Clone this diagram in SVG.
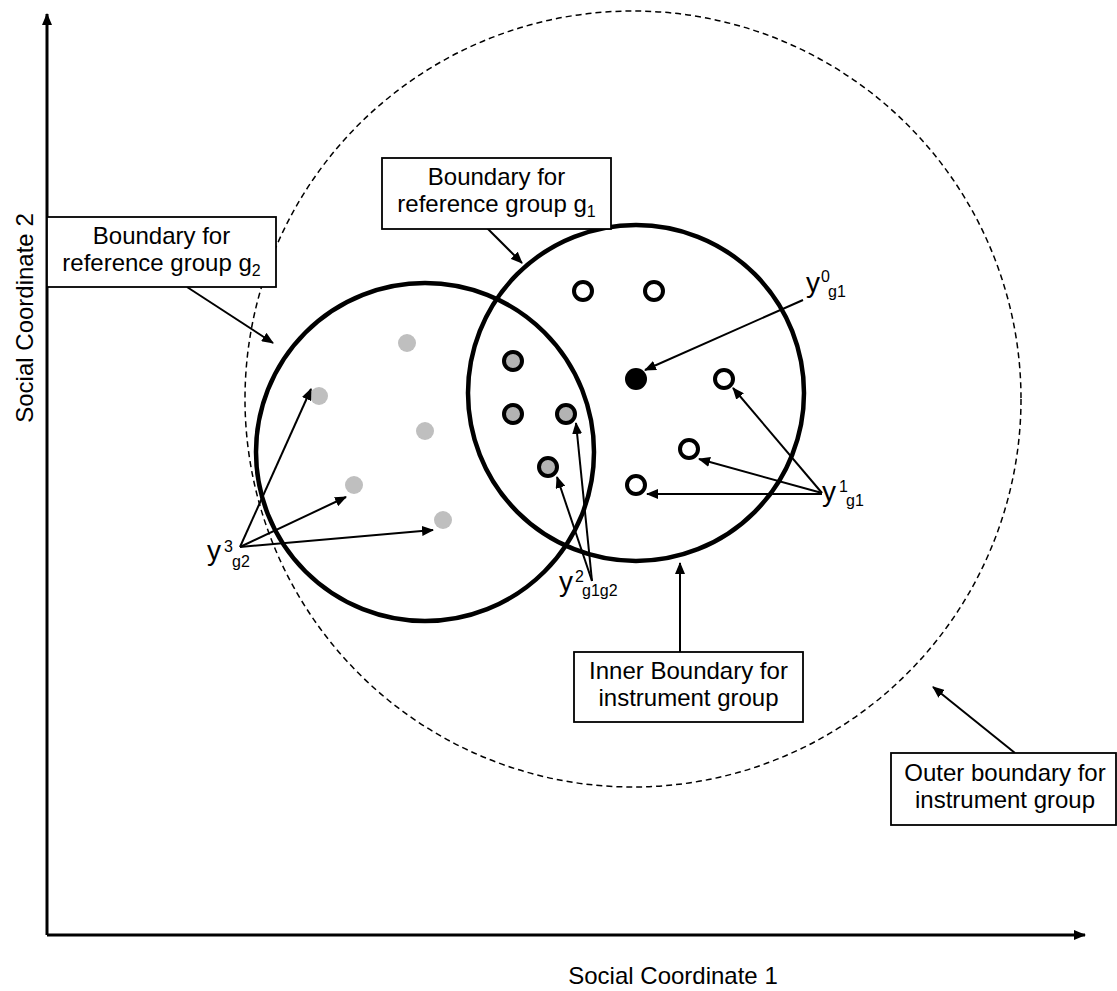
<svg xmlns="http://www.w3.org/2000/svg" width="1117" height="991" viewBox="0 0 1117 991">
<defs>
<style>
text{font-family:"Liberation Sans",Arial,sans-serif;fill:#000}
.t{font-size:24px;text-anchor:middle}
.s{font-size:16px}
.y{font-size:28px}
.box{fill:#fff;stroke:#000;stroke-width:1.8}
.ln{stroke:#000;stroke-width:2;fill:none}
.ax{stroke:#000;stroke-width:3;fill:none}
.big{fill:none;stroke:#000;stroke-width:4.5}
.open{fill:#fff;stroke:#000;stroke-width:4}
.both{fill:#b3b3b3;stroke:#000;stroke-width:4}
.g2p{fill:#bfbfbf}
</style>
<marker id="ah" markerUnits="userSpaceOnUse" markerWidth="12" markerHeight="10" refX="11" refY="5" orient="auto">
<path d="M0,0 L12,5 L0,10 z" fill="#000"/>
</marker>
<marker id="axh" markerUnits="userSpaceOnUse" markerWidth="12" markerHeight="10" refX="11" refY="5" orient="auto">
<path d="M0,0 L12,5 L0,10 z" fill="#000"/>
</marker>
</defs>
<rect width="1117" height="991" fill="#fff"/>

<g id="axes">
<line class="ax" x1="47" y1="935" x2="47" y2="14" marker-end="url(#axh)"/>
<line class="ax" x1="47" y1="935" x2="1085" y2="935" marker-end="url(#axh)"/>
<text class="t" x="673" y="984">Social Coordinate 1</text>
<text class="t" transform="translate(33,318) rotate(-90)">Social Coordinate 2</text>
</g>

<g id="outer-boundary">
<circle cx="633" cy="399" r="388" fill="none" stroke="#000" stroke-width="1.5" stroke-dasharray="6,4"/>
</g>
<g id="boundary-g2">
<circle class="big" cx="425" cy="452" r="169"/>
</g>
<g id="boundary-g1">
<circle class="big" cx="636" cy="393" r="168"/>
</g>

<g id="points-g2">
<circle class="g2p" cx="407" cy="343" r="9"/>
<circle class="g2p" cx="319" cy="396" r="9"/>
<circle class="g2p" cx="425" cy="431" r="9"/>
<circle class="g2p" cx="354" cy="485" r="9"/>
<circle class="g2p" cx="443" cy="520" r="9"/>
</g>
<g id="points-g1g2">
<circle class="both" cx="513" cy="361" r="9"/>
<circle class="both" cx="513" cy="414" r="9"/>
<circle class="both" cx="566" cy="414" r="9"/>
<circle class="both" cx="548" cy="467" r="9"/>
</g>
<g id="points-g1">
<circle class="open" cx="583" cy="291" r="9"/>
<circle class="open" cx="654" cy="291" r="9"/>
<circle class="open" cx="724" cy="379" r="9"/>
<circle class="open" cx="689" cy="449" r="9"/>
<circle class="open" cx="636" cy="485" r="9"/>
</g>
<g id="point-y0">
<circle cx="636" cy="379" r="11" fill="#000"/>
</g>

<g id="connectors">
<line class="ln" x1="187" y1="287" x2="273" y2="343" marker-end="url(#ah)"/>
<line class="ln" x1="487" y1="228" x2="522" y2="263" marker-end="url(#ah)"/>
<line class="ln" x1="803" y1="300" x2="645" y2="370" marker-end="url(#ah)"/>
<line class="ln" x1="822" y1="493" x2="733" y2="388" marker-end="url(#ah)"/>
<line class="ln" x1="822" y1="493" x2="699" y2="459" marker-end="url(#ah)"/>
<line class="ln" x1="822" y1="494" x2="647" y2="494" marker-end="url(#ah)"/>
<line class="ln" x1="592" y1="581" x2="557" y2="477" marker-end="url(#ah)"/>
<line class="ln" x1="592" y1="581" x2="576" y2="423" marker-end="url(#ah)"/>
<line class="ln" x1="240" y1="547" x2="311" y2="389" marker-end="url(#ah)"/>
<line class="ln" x1="240" y1="547" x2="346" y2="497" marker-end="url(#ah)"/>
<line class="ln" x1="240" y1="547" x2="433" y2="530" marker-end="url(#ah)"/>
<line class="ln" x1="680" y1="652" x2="680" y2="563" marker-end="url(#ah)"/>
<line class="ln" x1="1015" y1="753" x2="933" y2="687" marker-end="url(#ah)"/>
</g>

<g id="label-g2">
<rect class="box" x="47" y="217" width="229" height="70"/>
<text class="t" x="161.5" y="244">Boundary for</text>
<text class="t" x="161.5" y="271">reference group g<tspan class="s" dy="5">2</tspan></text>
</g>
<g id="label-g1">
<rect class="box" x="382" y="158" width="229" height="71"/>
<text class="t" x="496.5" y="185">Boundary for</text>
<text class="t" x="496.5" y="212">reference group g<tspan class="s" dy="5">1</tspan></text>
</g>
<g id="label-inner">
<rect class="box" x="574" y="652" width="229" height="70"/>
<text class="t" x="688.5" y="679">Inner Boundary for</text>
<text class="t" x="688.5" y="706">instrument group</text>
</g>
<g id="label-outer">
<rect class="box" x="891" y="753" width="225" height="72"/>
<text class="t" x="1005" y="781">Outer boundary for</text>
<text class="t" x="1005" y="808">instrument group</text>
</g>

<g id="label-y0">
<text class="y" x="806" y="292">y</text>
<text class="s" x="821" y="282">0</text>
<text class="s" x="828" y="297">g1</text>
</g>
<g id="label-y1">
<text class="y" x="822" y="501">y</text>
<text class="s" x="839" y="492">1</text>
<text class="s" x="846" y="506">g1</text>
</g>
<g id="label-y2">
<text class="y" x="559" y="591">y</text>
<text class="s" x="575" y="582">2</text>
<text class="s" x="582" y="596">g1g2</text>
</g>
<g id="label-y3">
<text class="y" x="207" y="560">y</text>
<text class="s" x="224" y="552">3</text>
<text class="s" x="232" y="567">g2</text>
</g>
</svg>
